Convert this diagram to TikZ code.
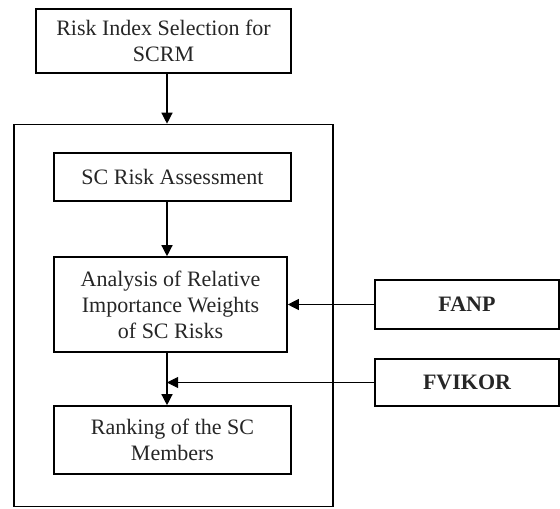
\documentclass[tikz,border=0pt]{standalone}
\usepackage{fontspec}
\setmainfont{Liberation Serif}
\usepackage{tikz}
\usetikzlibrary{arrows.meta}

\begin{document}
\begin{tikzpicture}[x=1pt,y=-1pt]
	\tikzstyle{box} = [draw=black, line width=1.6pt, inner sep=0pt, align=center,
		text=black!85, font=\fontsize{22}{26}\selectfont]
	\tikzstyle{arrow} = [draw=black, line width=1.3pt, -{Triangle[length=11pt,width=11pt]}]
	\tikzstyle{feed} = [arrow, line width=0.9pt]
	\useasboundingbox (0,0) rectangle (560,509);
	\coordinate (col) at (167,0);
		\node[box, minimum width=255, minimum height=64] (top) at (163.5,41)
			{Risk Index Selection for\\SCRM};
		\node[box, minimum width=319, minimum height=382] (frame) at (173.5,315.5) {};
		\node[box, minimum width=237, minimum height=48] (sc) at (172.5,177)
			{SC Risk Assessment};
		\node[box, minimum width=233, minimum height=95] (anal) at (170.5,304.5)
			{Analysis of Relative\\Importance Weights\\of SC Risks};
		\node[box, minimum width=237, minimum height=68] (rank) at (172.5,440)
			{Ranking of the SC\\Members};
		\node[box, minimum width=184, minimum height=49, font=\fontsize{22}{26}\selectfont\bfseries] (fanp) at (467,304.5) {FANP};
		\node[box, minimum width=184, minimum height=47, font=\fontsize{22}{26}\selectfont\bfseries] (fvikor) at (467,382.5) {FVIKOR};
	\draw[arrow] (top.south -| col) -- (frame.north -| col);
	\draw[arrow] (sc.south -| col) -- (anal.north -| col);
	\draw[arrow] (anal.south -| col) -- (rank.north -| col);
	\draw[feed] (fanp.west) -- (anal.east |- fanp.west);
	\draw[feed] (fvikor.west) -- (fvikor.west -| col);
\end{tikzpicture}
\end{document}
